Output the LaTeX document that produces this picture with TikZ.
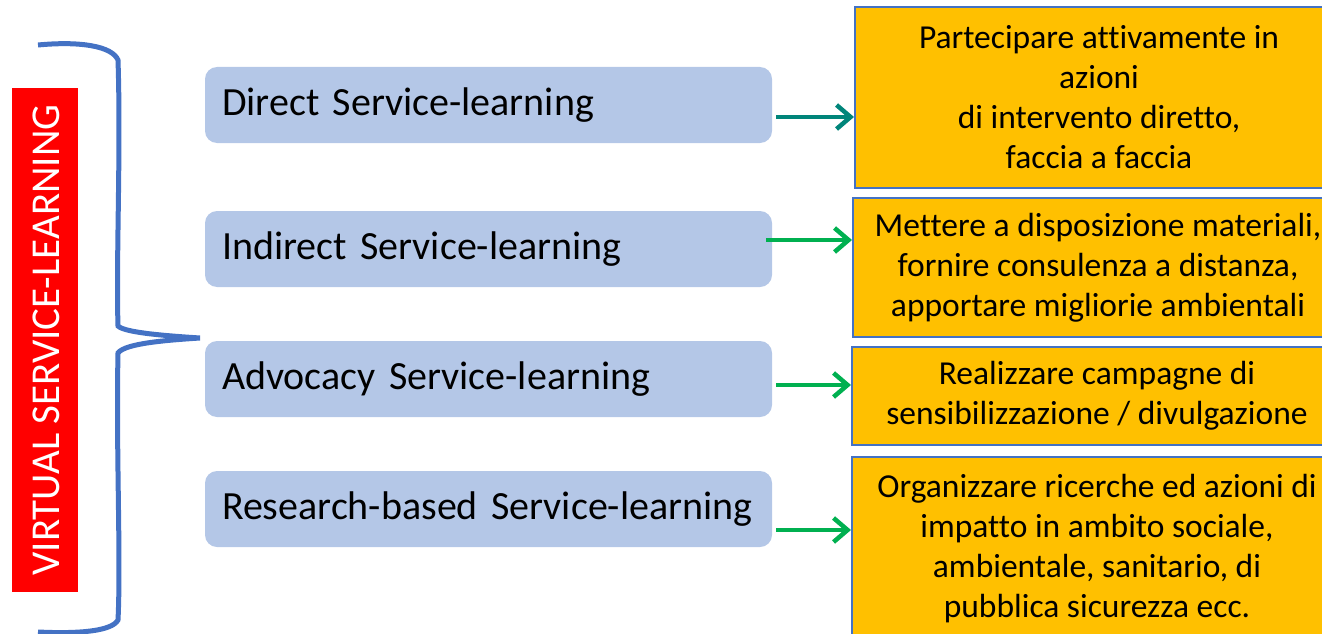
\documentclass[tikz,border=0pt]{standalone}
\usepackage{fontspec}
\setmainfont{Carlito}[Ligatures={NoCommon}]
\usetikzlibrary{arrows.meta}
\definecolor{bluebox}{HTML}{B4C7E7}
\definecolor{orangebox}{HTML}{FFC000}
\definecolor{edgeblue}{HTML}{4472C4}
\definecolor{tealarrow}{HTML}{00857A}
\definecolor{greenarrow}{HTML}{00B050}
\definecolor{redbox}{HTML}{FF0000}
\tikzset{
  bluenode/.style={fill=bluebox, rounded corners=12pt, minimum width=567pt, minimum height=76pt,
    inner xsep=17pt, text width=533pt, align=left, font=\fontsize{40}{44}\selectfont},
  orangenode/.style={fill=orangebox, draw=edgeblue, line width=2pt, inner sep=0pt,
    align=center, font=\fontsize{33.5}{40}\selectfont},
  arr/.style={line width=4.5pt, -{Straight Barb[length=14pt,width=24pt]}},
  bracketline/.style={draw=edgeblue, line width=5pt}
}
\begin{document}
\begin{tikzpicture}[x=1pt,y=-1pt]
\useasboundingbox (0,0) rectangle (1322,634);
% red label
\node[fill=redbox, minimum width=66pt, minimum height=504pt, inner sep=0pt] (red) at (45,340) {};
\node[rotate=90, text=white, font=\fontsize{41}{41}\selectfont] (redtext) at ([xshift=1pt]red.center) {VIRTUAL SERVICE-LEARNING};
% bracket
\path[bracketline] (38,45) .. controls (80,41) and (112,46) .. (118,60)
  .. controls (121,150) and (116,260) .. (118,326)
  .. controls (125,333) and (170,336) .. (200,338)
  .. controls (170,340) and (125,343) .. (118,353)
  .. controls (116,450) and (121,560) .. (118,620)
  .. controls (112,631) and (80,634) .. (38,632);
% blue boxes
\node[bluenode] (b1) at (488.5,105) {Direct Service-learning};
\node[bluenode] (b2) at (488.5,249) {Indirect Service-learning};
\node[bluenode] (b3) at (488.5,379) {Advocacy Service-learning};
\node[bluenode] (b4) at (488.5,509) {Research-based Service-learning};
% orange boxes
\node[orangenode, minimum width=488pt, minimum height=181pt] (o1) at (1099,97.5)
  {Partecipare attivamente in\\ azioni\\ di intervento diretto,\\ faccia a faccia};
\node[orangenode, minimum width=490pt, minimum height=139pt] (o2) at (1098,267.5)
  {Mettere a disposizione materiali,\\ fornire consulenza a distanza,\\ apportare migliorie ambientali};
\node[orangenode, minimum width=490pt, minimum height=98pt] (o3) at (1097,396)
  {Realizzare campagne di\\ sensibilizzazione / divulgazione};
\node[orangenode, minimum width=490pt, minimum height=193pt] (o4) at (1097,553.5) {};
\node[align=center, font=\fontsize{33.5}{40}\selectfont] (o4text) at (1097,549)
  {Organizzare ricerche ed azioni di\\ impatto in ambito sociale,\\ ambientale, sanitario, di\\ pubblica sicurezza ecc.};
% arrows
\path (b1.east) ++(4,12) coordinate (s1);
\path (b2.east) ++(-6,-9) coordinate (s2);
\path (b3.east) ++(4,6) coordinate (s3);
\path (b4.east) ++(4,21) coordinate (s4);
\draw[arr, draw=tealarrow] (s1) -- (s1 -| o1.west);
\draw[arr, draw=greenarrow] (s2) -- (s2 -| o2.west);
\draw[arr, draw=greenarrow] (s3) -- (s3 -| o3.west);
\draw[arr, draw=greenarrow] (s4) -- (s4 -| o4.west);
\end{tikzpicture}
\end{document}
